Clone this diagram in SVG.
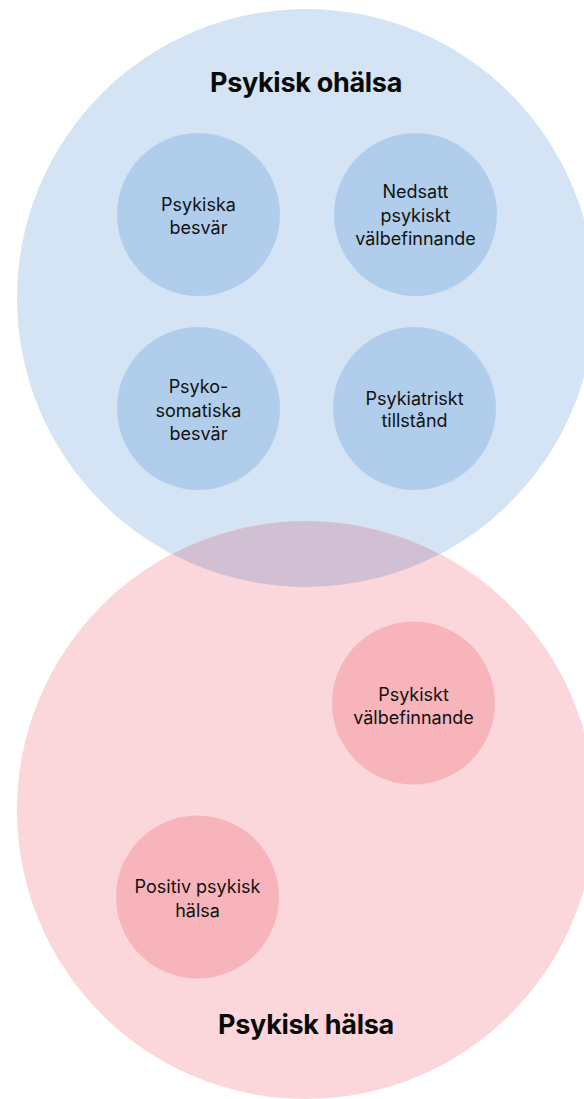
<svg xmlns="http://www.w3.org/2000/svg" width="584" height="1099" viewBox="0 0 584 1099">
<style>
.t{font-family:Inter,"Liberation Sans",sans-serif;font-size:18px;fill:#111;text-anchor:middle}
.h{font-family:Inter,"Liberation Sans",sans-serif;font-size:27px;font-weight:700;fill:#0a0a0a;text-anchor:middle;letter-spacing:-0.3px}
.sb{fill:#b0cdec}
.sp{fill:#f8b4bb}
</style>
<rect width="584" height="1099" fill="#ffffff"/>
<g id="psykisk-ohalsa">
<circle cx="306" cy="298" r="289" fill="#d4e4f4"/>
</g>
<g id="psykisk-halsa">
<circle cx="306" cy="810" r="289" fill="#fbd7db"/>
</g>
<g id="overlap">
<path d="M172,554 A289,289 0 0 0 440,554 A289,289 0 0 0 172,554 Z" fill="#d1c0d3"/>
</g>
<text class="h" x="306" y="92">Psykisk ohälsa</text>
<text class="h" x="306" y="1034">Psykisk hälsa</text>
<g id="psykiska-besvar">
<circle class="sb" cx="198.5" cy="214.5" r="81.5"/>
<text class="t" x="198.5" y="210.5">Psykiska</text>
<text class="t" x="198.5" y="233.5">besvär</text>
</g>
<g id="nedsatt-psykiskt-valbefinnande">
<circle class="sb" cx="415.5" cy="214.5" r="81.5"/>
<text class="t" x="415.5" y="198">Nedsatt</text>
<text class="t" x="415.5" y="221.5">psykiskt</text>
<text class="t" x="415.5" y="245">välbefinnande</text>
</g>
<g id="psykosomatiska-besvar">
<circle class="sb" cx="198.5" cy="408.5" r="81.5"/>
<text class="t" x="198.5" y="393">Psyko-</text>
<text class="t" x="198.5" y="416.5">somatiska</text>
<text class="t" x="198.5" y="440">besvär</text>
</g>
<g id="psykiatriskt-tillstand">
<circle class="sb" cx="414.5" cy="408.5" r="81.5"/>
<text class="t" x="414.5" y="404.5">Psykiatriskt</text>
<text class="t" x="414.5" y="427">tillstånd</text>
</g>
<g id="psykiskt-valbefinnande">
<circle class="sp" cx="413.5" cy="703" r="81.5"/>
<text class="t" x="413.5" y="700.5">Psykiskt</text>
<text class="t" x="413.5" y="724">välbefinnande</text>
</g>
<g id="positiv-psykisk-halsa">
<circle class="sp" cx="197.5" cy="897" r="81.5"/>
<text class="t" x="197.5" y="893">Positiv psykisk</text>
<text class="t" x="197.5" y="916.5">hälsa</text>
</g>
<g id="connectors"></g>
</svg>
